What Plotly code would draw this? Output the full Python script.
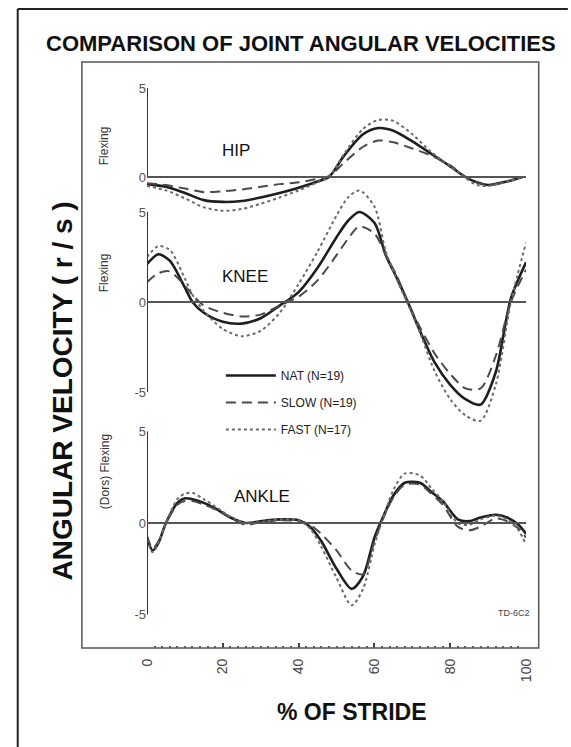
import plotly.graph_objects as go

W, H = 571, 747

# ---------------- data (rad/s vs % of stride) ----------------
hip_x = [0, 5, 10, 15, 20, 25, 30, 35, 40, 45, 48, 52, 57, 61, 65, 70, 75, 80, 84, 87, 90, 95, 99]
hip_nat = [-0.4, -0.55, -0.9, -1.3, -1.4, -1.35, -1.15, -0.9, -0.6, -0.25, 0.0, 1.2, 2.4, 2.75, 2.6, 2.0, 1.3, 0.6, 0.0, -0.3, -0.45, -0.25, 0.0]
hip_slow = [-0.35, -0.45, -0.65, -0.85, -0.8, -0.7, -0.55, -0.4, -0.3, -0.1, 0.05, 0.8, 1.7, 2.05, 1.95, 1.6, 1.2, 0.65, 0.0, -0.3, -0.45, -0.25, 0.0]
hip_fast = [-0.5, -0.75, -1.2, -1.7, -1.9, -1.8, -1.5, -1.15, -0.75, -0.3, 0.0, 1.3, 2.7, 3.2, 3.15, 2.4, 1.4, 0.6, -0.05, -0.45, -0.5, -0.25, 0.0]

knee_x = [0, 3, 6, 10, 12, 15, 20, 25, 30, 35, 40, 45, 50, 53, 56, 60, 63, 66, 69, 72, 76, 80, 84, 88, 92, 96, 100]
knee_nat = [2.1, 2.65, 2.3, 0.8, 0.0, -0.6, -1.1, -1.2, -0.9, -0.2, 0.55, 1.9, 3.6, 4.5, 5.0, 4.4, 2.6, 1.3, -0.1, -1.6, -3.4, -4.6, -5.4, -5.7, -3.9, 0.2, 2.2]
knee_slow = [1.1, 1.6, 1.7, 0.9, 0.4, -0.2, -0.6, -0.8, -0.7, -0.2, 0.3, 1.2, 2.6, 3.5, 4.2, 3.8, 2.6, 1.4, -0.1, -1.4, -2.9, -4.0, -4.8, -4.8, -3.0, 0.0, 1.8]
knee_fast = [2.5, 3.1, 2.9, 1.3, 0.4, -0.5, -1.5, -1.9, -1.6, -0.6, 1.0, 2.8, 4.8, 5.8, 6.2, 5.3, 2.8, 1.2, -0.2, -1.7, -3.9, -5.4, -6.3, -6.6, -4.6, 0.0, 3.3]

ankle_x = [0, 1.5, 3, 5, 8, 10, 12, 15, 18, 22, 26, 30, 35, 40, 43, 46, 50, 54, 57, 60, 62, 65, 68, 72, 75, 78, 82, 85, 88, 92, 95, 98, 100]
ankle_nat = [-0.8, -1.5, -1.1, 0.0, 1.1, 1.35, 1.3, 1.1, 0.8, 0.3, 0.0, 0.1, 0.2, 0.15, -0.2, -1.0, -2.5, -3.6, -2.9, -0.8, 0.2, 1.5, 2.2, 2.2, 1.7, 1.2, 0.2, 0.1, 0.3, 0.45, 0.3, -0.1, -0.6]
ankle_slow = [-0.7, -1.4, -1.0, 0.0, 1.0, 1.2, 1.2, 1.0, 0.75, 0.3, -0.1, 0.05, 0.15, 0.1, -0.1, -0.6, -1.5, -2.6, -2.8, -1.0, 0.1, 1.4, 2.1, 2.1, 1.6, 1.0, -0.2, -0.4, -0.2, 0.25, 0.1, -0.3, -0.8]
ankle_fast = [-0.9, -1.6, -1.1, 0.0, 1.3, 1.6, 1.65, 1.3, 0.9, 0.35, 0.0, 0.05, 0.2, 0.15, -0.3, -1.3, -3.0, -4.5, -3.6, -1.2, 0.1, 1.8, 2.7, 2.6, 1.9, 1.2, 0.0, -0.1, 0.2, 0.4, 0.2, -0.4, -1.2]

series_names = ["NAT (N=19)", "SLOW (N=19)", "FAST (N=17)"]
panel_labels = ["HIP", "KNEE", "ANKLE"]
x_ticks = [0, 20, 40, 60, 80, 100]

# ---------------- styling ----------------
styles = [
    dict(color="#1e1e1e", width=2.6, dash="solid"),
    dict(color="#4a4a4a", width=2.0, dash="10px,6px"),
    dict(color="#6a6a6a", width=2.0, dash="3px,3px"),
]
FONT = "Liberation Sans, Arial, sans-serif"


def px_x(px):
    return px / W


def px_y(py):
    return 1 - py / H


def ydomain(zero_px, unit_px, lo, hi):
    top = zero_px - hi * unit_px
    bot = zero_px - lo * unit_px
    return [px_y(bot), px_y(top)]


fig = go.Figure()

panels = [
    ("y", hip_x, [hip_nat, hip_slow, hip_fast]),
    ("y2", knee_x, [knee_nat, knee_slow, knee_fast]),
    ("y3", ankle_x, [ankle_nat, ankle_slow, ankle_fast]),
]
for pi, (yref, xs, sets) in enumerate(panels):
    for si, ys in enumerate(sets):
        fig.add_trace(go.Scatter(
            x=xs, y=ys, mode="lines", name=series_names[si],
            line=dict(shape="spline", smoothing=0.8, **styles[si]),
            yaxis=yref, legendgroup=series_names[si], showlegend=(pi == 0),
        ))

ranges = {"y": [-2.3, 5.5], "y2": [-7.0, 6.8], "y3": [-5.5, 5.5]}
zeros = {"y": (177, 17.8), "y2": (302, 18.0), "y3": (523, 18.3)}
ticks = {"y": [0, 5], "y2": [-5, 0, 5], "y3": [-5, 0, 5]}

yaxis_common = dict(showgrid=False, zeroline=False, showline=False,
                    ticks="", tickfont=dict(family=FONT, size=13, color="#555"),
                    anchor="x")
layout_axes = {}
for key, name in [("y", "yaxis"), ("y2", "yaxis2"), ("y3", "yaxis3")]:
    z, u = zeros[key]
    lo, hi = ranges[key]
    layout_axes[name] = dict(domain=ydomain(z, u, lo, hi), range=[lo, hi],
                             tickvals=ticks[key], ticktext=[str(t) if t >= 0 else "-" + str(-t) for t in ticks[key]],
                             **yaxis_common)

shapes = []
# outer frame (left + top) and inner box
shapes.append(dict(type="line", xref="paper", yref="paper", x0=px_x(10), x1=px_x(10), y0=px_y(9), y1=px_y(H + 5),
                   line=dict(color="#222", width=2)))
shapes.append(dict(type="line", xref="paper", yref="paper", x0=px_x(10), x1=px_x(W + 5), y0=px_y(9), y1=px_y(9),
                   line=dict(color="#222", width=2)))
shapes.append(dict(type="rect", xref="paper", yref="paper", x0=px_x(76), x1=px_x(546), y0=px_y(648), y1=px_y(62),
                   line=dict(color="#555", width=1.5)))
# axis lines and zero lines per panel
for key, (lo_l, hi_l) in [("y", (0, 5)), ("y2", (-5, 5)), ("y3", (-5, 5))]:
    shapes.append(dict(type="line", xref="x", yref=key, x0=0, x1=0, y0=lo_l, y1=hi_l,
                       line=dict(color="#333", width=2)))
    shapes.append(dict(type="line", xref="x", yref=key, x0=0, x1=100.5, y0=0, y1=0,
                       line=dict(color="#555", width=1.8)))


def ann(text, x, y, size, angle=0, color="#111"):
    return dict(text=text, xref="paper", yref="paper", x=px_x(x), y=px_y(y),
                xanchor="center", yanchor="middle", textangle=angle, showarrow=False,
                font=dict(family=FONT, size=size, color=color))


annotations = [
    ann("<b>COMPARISON OF JOINT ANGULAR VELOCITIES</b>", 301, 43, 22),
    ann("<b>ANGULAR VELOCITY ( r / s )</b>", 57, 391, 28, angle=-90),
    ann("<b>% OF STRIDE</b>", 354, 712, 23),
    ann(panel_labels[0], 235, 150, 17),
    ann(panel_labels[1], 244, 277, 17),
    ann(panel_labels[2], 261, 496, 17),
    ann("Flexing", 99, 146, 12, angle=-90, color="#333"),
    ann("Flexing", 99, 273, 12, angle=-90, color="#333"),
    ann("(Dors) Flexing", 100, 472, 12, angle=-90, color="#333"),
    ann("TD-6C2", 521, 613, 9, color="#444"),
]

fig.update_layout(
    width=W, height=H, margin=dict(l=0, r=0, t=0, b=0),
    paper_bgcolor="white", plot_bgcolor="rgba(0,0,0,0)",
    xaxis=dict(domain=[px_x(143), px_x(533)], range=[0, 100], anchor="free", position=px_y(648),
               showgrid=False, zeroline=False, showline=False,
               tickvals=x_ticks, ticks="inside", ticklen=5, tickwidth=1.5, tickcolor="#444",
               minor=dict(dtick=2, ticks="inside", ticklen=2, tickcolor="#666"),
               ticklabelstandoff=7,
               tickangle=-90, tickfont=dict(family=FONT, size=14, color="#444")),
    showlegend=True,
    legend=dict(x=px_x(219), y=px_y(361), xanchor="left", yanchor="top", bgcolor="rgba(0,0,0,0)",
                font=dict(family=FONT, size=12, color="#222"), tracegroupgap=8, itemwidth=50),
    shapes=shapes, annotations=annotations,
    **layout_axes,
)

fig.write_html("out.html")
